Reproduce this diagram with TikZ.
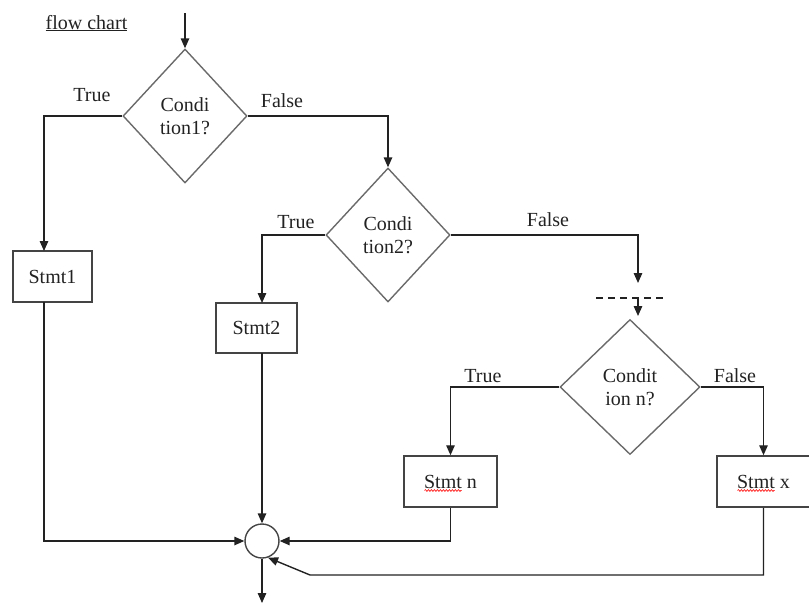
\documentclass[tikz,border=0pt]{standalone}
\usepackage{fontspec}
\setmainfont{Liberation Serif}
\usetikzlibrary{shapes.geometric,arrows.meta,decorations.pathmorphing}
\definecolor{ink}{HTML}{222222}
\definecolor{boxline}{HTML}{444444}
\definecolor{diamline}{HTML}{6A6A6A}
\begin{document}
\begin{tikzpicture}[x=1pt,y=-1pt,
  every node/.style={font=\fontsize{20}{23}\selectfont, text=ink},
  arr/.style={draw=ink, line width=1.4pt, -{Triangle[length=10pt,width=8.5pt]}},
  stmtbox/.style={draw=boxline, line width=1.5pt, rectangle, inner sep=0pt},
  decision/.style={draw=diamline, line width=1.4pt, shape=diamond, inner sep=0pt, align=center},
  lbl/.style={inner sep=0pt},
  spellmark/.style={draw=red, line width=0.6pt, decorate,
    decoration={snake, segment length=3pt, amplitude=0.9pt}}]
\useasboundingbox (0,0) rectangle (809,603);

% title
\node[lbl, anchor=base] (title) at (86.5,29) {\underline{flow chart}};

% decisions
\node[decision, minimum width=124pt, minimum height=134pt] (d1) at (185,116) {Condi\\tion1?};
\node[decision, minimum width=124pt, minimum height=134pt] (d2) at (388,235) {Condi\\tion2?};
\node[decision, minimum width=140pt, minimum height=135pt] (dn) at (630,387) {Condit\\ion n?};

% statements
\node[stmtbox, minimum width=79pt, minimum height=51pt] (s1) at (52.5,276.5) {Stmt1};
\node[stmtbox, minimum width=81pt, minimum height=50pt] (s2) at (256.5,328) {Stmt2};
\node[stmtbox, minimum width=93pt, minimum height=51pt] (sn) at (450.5,481.5) {Stmt n};
\node[stmtbox, minimum width=93pt, minimum height=51pt] (sx) at (763.5,481.5) {Stmt x};

% spell-check marks under "Stmt"
\draw[spellmark] ([xshift=-26pt,yshift=-9pt]sn.center) -- ([xshift=11pt,yshift=-9pt]sn.center);
\draw[spellmark] ([xshift=-26pt,yshift=-9pt]sx.center) -- ([xshift=11pt,yshift=-9pt]sx.center);

% junction
\node[draw=boxline, line width=1.4pt, circle, minimum size=34pt, inner sep=0pt] (j) at (262,541) {};

% branch labels
\node[lbl] (t1) at (92,95) {True};
\node[lbl] (f1) at (282,101) {False};
\node[lbl] (t2) at (296,222) {True};
\node[lbl] (f2) at (548,220) {False};
\node[lbl] (t3) at (483,376) {True};
\node[lbl] (f3) at (735,376) {False};

% free ends
\coordinate (entry) at (185,13);
\coordinate (gapin) at (638,283);
\coordinate (dashl) at (596,298);
\coordinate (dashr) at (663,298);
\coordinate (gapout) at (638,298);
\coordinate (gaptip) at (638,316);
\coordinate (s1in) at (44,251);
\coordinate (s1out) at (44,302);
\coordinate (s2in) at (262,303);
\coordinate (s2out) at (262,353);
\coordinate (xbend) at (310,575);
\coordinate (exit) at (262,603);

% connectors
\draw[arr] (entry) -- (d1.north);
\draw[arr] (d1.west) -| (s1in);
\draw[arr] (d1.east) -| (d2.north);
\draw[arr] (d2.west) -| (s2in);
\draw[arr] (d2.east) -| (gapin);
\draw[draw=ink, line width=1.4pt, dash pattern=on 7pt off 5pt] (dashl) -- (dashr);
\draw[arr] (gapout) -- (gaptip);
\draw[arr] (dn.west) -| (sn.north);
\draw[arr] (dn.east) -| (sx.north);
\draw[arr] (s1out) |- (j.west);
\draw[arr] (s2out) -- (j.north);
\draw[arr] (sn.south) |- (j.east);
\draw[arr] (sx.south) |- (xbend) -- (j.-70);
\draw[arr] (j.south) -- (exit);
\end{tikzpicture}
\end{document}
